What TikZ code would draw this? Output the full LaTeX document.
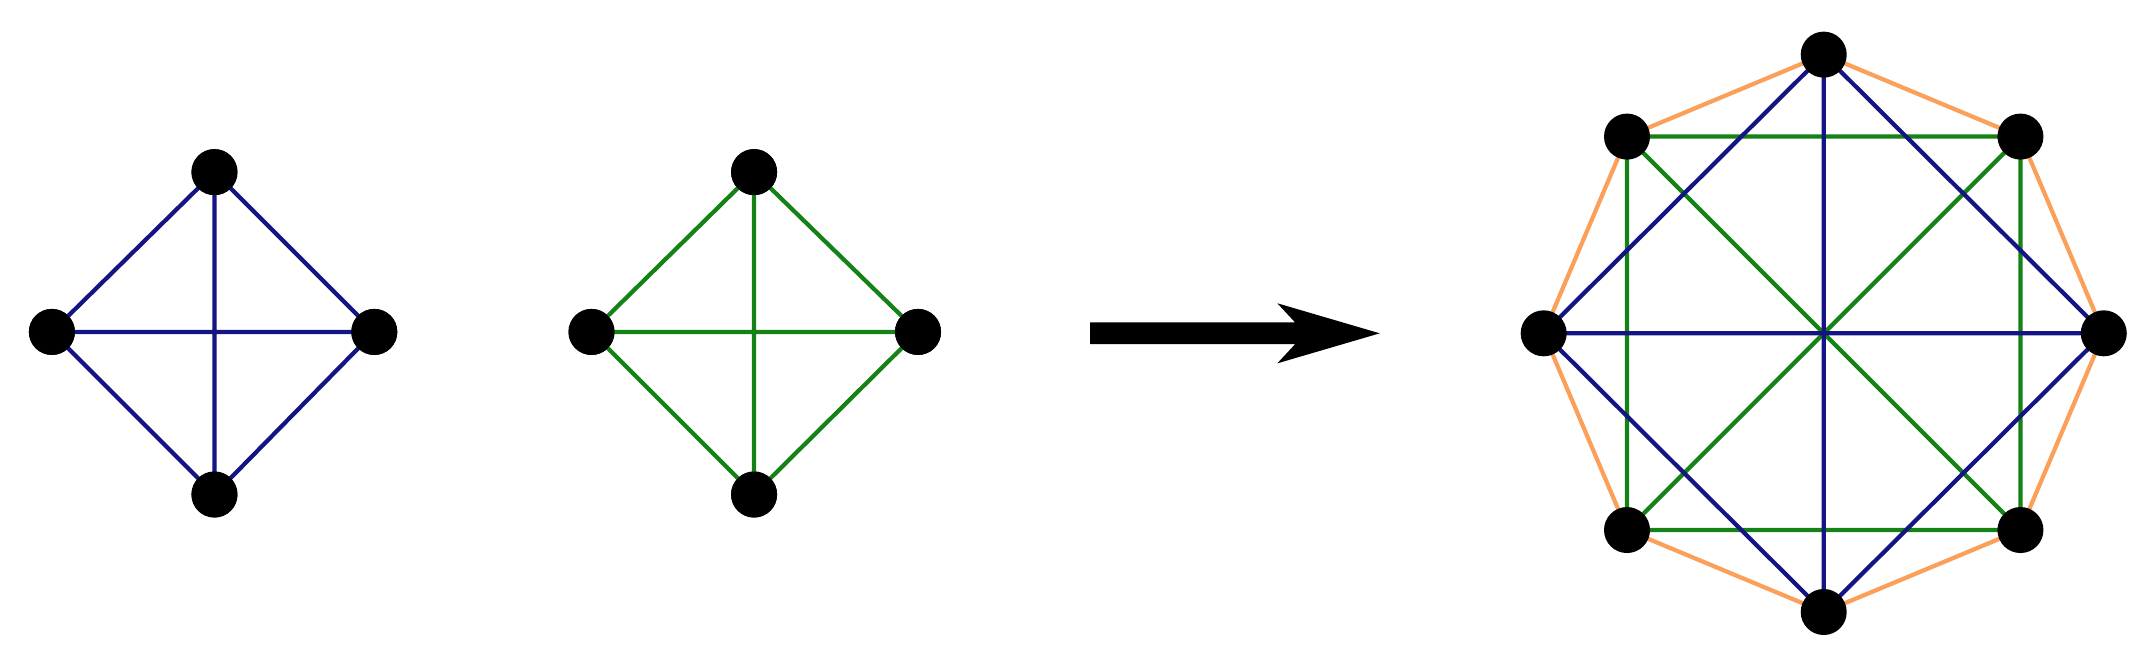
\documentclass[tikz,border=0pt]{standalone}
\definecolor{eblue}{RGB}{20,20,130}
\definecolor{egreen}{RGB}{20,130,20}
\definecolor{eorange}{RGB}{250,160,90}
\begin{document}
\begin{tikzpicture}[x=0.01366cm,y=-0.01366cm,
  dot/.style={circle,fill=black,inner sep=0pt,minimum size=0.46cm},
  bl/.style={eblue,line width=1.2pt},
  gl/.style={egreen,line width=1.2pt},
  ol/.style={eorange,line width=1.2pt}]
\useasboundingbox (0,0) rectangle (1568,480);
% graph 1
\node[dot] (at) at (157,126) {};
\node[dot] (al) at (38,243) {};
\node[dot] (ar) at (274,243) {};
\node[dot] (ab) at (157,362) {};
\begin{scope}[on background layer/.style={}]
\end{scope}
\draw[bl] (at.center)--(al.center)--(ab.center)--(ar.center)--(at.center)--(ab.center) (al.center)--(ar.center);
\node[dot] at (at) {};\node[dot] at (al) {};\node[dot] at (ar) {};\node[dot] at (ab) {};
% graph 2
\node[dot] (bt) at (552,126) {};
\node[dot] (bl) at (433,243) {};
\node[dot] (br) at (672,243) {};
\node[dot] (bb) at (552,362) {};
\draw[gl] (bt.center)--(bl.center)--(bb.center)--(br.center)--(bt.center)--(bb.center) (bl.center)--(br.center);
\node[dot] at (bt) {};\node[dot] at (bl) {};\node[dot] at (br) {};\node[dot] at (bb) {};
% arrow
\fill (798,236)--(948,236)--(935,222)--(1010,244)--(935,266)--(948,252)--(798,252)--cycle;
% octagon
\coordinate (c0) at (1335,40);
\coordinate (c1) at (1479,100);
\coordinate (c2) at (1540,244);
\coordinate (c3) at (1479,388);
\coordinate (c4) at (1335,448);
\coordinate (c5) at (1191,388);
\coordinate (c6) at (1130,244);
\coordinate (c7) at (1191,100);
\draw[ol] (c0)--(c1)--(c2)--(c3)--(c4)--(c5)--(c6)--(c7)--cycle;
\draw[gl] (c1)--(c3)--(c5)--(c7)--cycle (c1)--(c5) (c3)--(c7);
\draw[bl] (c0)--(c2)--(c4)--(c6)--cycle (c0)--(c4) (c2)--(c6);
\foreach \i in {0,...,7} \node[dot] (o\i) at (c\i) {};
\end{tikzpicture}
\end{document}
